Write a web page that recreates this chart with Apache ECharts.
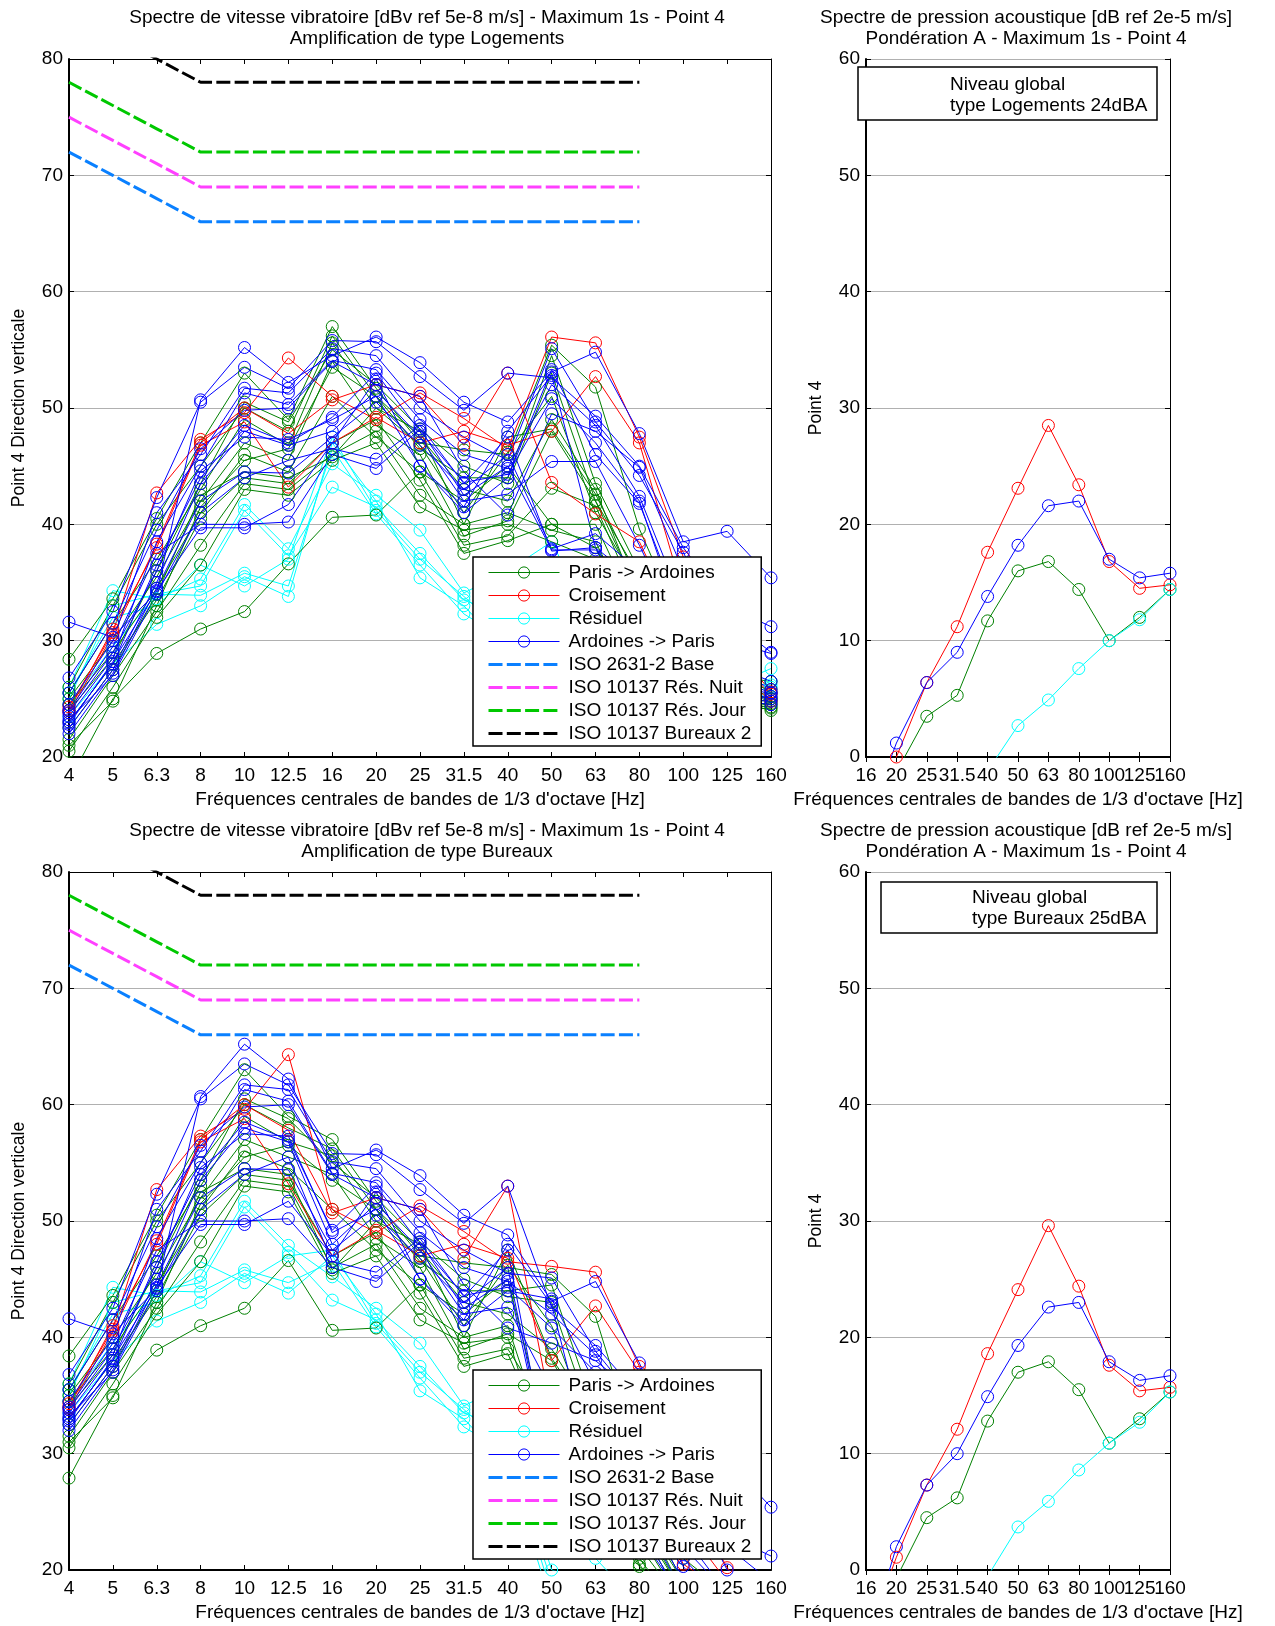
<!DOCTYPE html>
<html>
<head>
<meta charset="utf-8">
<script src="https://cdn.jsdelivr.net/npm/echarts@6/dist/echarts.min.js"></script>
<style>
  html, body { margin: 0; padding: 0; background: #fff; }
  #chart { width: 1275px; height: 1626px; }
</style>
</head>
<body>
<div id="chart"></div>
<script>
// categories
const freqVib = ['4', '5', '6.3', '8', '10', '12.5', '16', '20', '25', '31.5', '40', '50', '63', '80', '100', '125', '160'];
const freqAcou = ['16', '20', '25', '31.5', '40', '50', '63', '80', '100', '125', '160'];

// vitesse vibratoire - amplification Logements (one row per passage)
const logParisArdoines = [
    [28.4, 33.6, 40.5, 47.0, 53.0, 49.0, 57.0, 51.7, 47.0, 46.4, 46.0, 55.4, 51.8, 39.6, 31.0, 28.0, 25.5],
    [26.0, 33.0, 40.0, 45.0, 50.0, 48.0, 56.2, 51.0, 46.5, 44.0, 44.0, 54.5, 43.5, 36.0, 29.0, 27.0, 26.5],
    [25.5, 31.5, 37.0, 43.0, 49.0, 46.8, 55.6, 50.0, 48.0, 40.0, 47.5, 48.2, 42.6, 35.0, 29.0, 26.0, 25.0],
    [25.0, 30.0, 35.5, 42.0, 47.0, 45.5, 54.0, 48.5, 46.0, 39.0, 40.3, 48.0, 42.0, 34.0, 28.0, 25.0, 24.5],
    [24.5, 29.0, 34.5, 41.0, 46.0, 44.5, 51.0, 47.5, 44.5, 38.2, 39.0, 43.1, 41.6, 33.0, 27.0, 25.0, 24.0],
    [23.0, 28.0, 33.5, 40.5, 44.0, 43.5, 47.0, 49.0, 43.8, 37.5, 38.6, 40.0, 40.0, 32.0, 27.0, 24.0, 24.2],
    [21.5, 27.0, 32.5, 38.2, 43.5, 43.0, 46.0, 48.0, 42.5, 40.0, 41.0, 39.5, 38.5, 31.0, 26.0, 24.0, 24.6],
    [20.5, 26.0, 32.0, 36.5, 43.0, 42.5, 45.5, 47.0, 41.5, 39.5, 40.0, 38.5, 37.0, 30.3, 26.0, 23.5, 25.2],
    [17.9, 25.0, 28.9, 31.0, 32.5, 36.6, 40.6, 40.8, 44.5, 42.0, 45.0, 40.0, 38.0, 30.5, 25.0, 24.0, 25.8],
    [21.0, 24.8, 33.0, 41.5, 45.5, 46.5, 53.5, 51.0, 47.5, 43.0, 42.0, 49.0, 43.0, 33.5, 27.5, 25.0, 24.8],
    [24.0, 28.5, 36.0, 43.5, 50.5, 48.8, 55.0, 52.0, 48.2, 45.0, 43.5, 53.0, 42.0, 35.5, 28.0, 25.5, 25.0],
    [22.5, 27.5, 34.0, 42.5, 44.5, 44.0, 45.8, 50.0, 46.8, 41.0, 46.2, 51.0, 41.0, 34.5, 28.0, 24.5, 24.3]
];
const logCroisement = [
    [24.3, 30.7, 42.7, 47.3, 49.6, 54.3, 51.0, 49.0, 51.3, 49.1, 46.5, 56.1, 55.6, 47.5, 37.2, 30.2, 25.6],
    [23.8, 30.5, 38.3, 47.0, 50.0, 47.8, 50.7, 52.0, 51.0, 46.8, 53.0, 43.6, 40.9, 38.5, 30.5, 28.0, 24.8],
    [24.0, 31.0, 38.0, 46.8, 48.8, 43.2, 47.0, 49.2, 47.0, 48.0, 46.8, 48.0, 52.7, 47.0, 34.0, 29.0, 25.4]
];
const logResiduel = [
    [26.0, 34.3, 33.6, 35.3, 41.7, 37.9, 45.2, 42.5, 39.5, 34.1, 36.0, 38.5, 31.0, 27.0, 26.0, 26.0, 27.6],
    [25.0, 33.0, 34.0, 34.7, 41.2, 37.3, 43.2, 41.5, 37.5, 33.5, 32.0, 30.0, 29.0, 27.0, 25.0, 25.0, 26.5],
    [24.5, 29.5, 34.0, 33.9, 35.8, 34.7, 46.5, 40.9, 36.5, 32.3, 30.0, 28.0, 27.0, 26.0, 25.0, 25.0, 26.0],
    [23.5, 28.0, 31.4, 33.0, 35.5, 33.8, 47.0, 42.0, 35.4, 33.0, 29.0, 27.0, 26.5, 25.5, 24.5, 24.5, 25.5],
    [25.5, 32.0, 33.0, 36.5, 34.7, 37.0, 47.5, 41.2, 37.0, 33.8, 30.5, 29.0, 28.0, 26.0, 25.0, 25.0, 26.2]
];
const logArdoinesParis = [
    [31.6, 30.3, 34.2, 50.7, 55.2, 52.2, 54.5, 56.1, 53.9, 50.5, 48.8, 53.1, 54.8, 47.8, 38.5, 39.4, 35.4],
    [26.8, 32.5, 42.3, 50.5, 53.5, 51.7, 55.8, 55.7, 52.7, 49.8, 53.0, 52.6, 49.3, 45.0, 38.0, 33.0, 31.2],
    [24.5, 30.0, 41.0, 46.0, 51.7, 51.3, 55.1, 54.5, 50.0, 47.5, 45.5, 55.1, 48.8, 44.2, 37.6, 30.0, 28.9],
    [23.5, 28.5, 38.5, 45.0, 51.3, 50.3, 54.1, 53.3, 49.0, 46.0, 44.8, 52.0, 48.5, 42.4, 33.0, 28.0, 26.5],
    [23.0, 28.0, 36.5, 44.0, 48.5, 47.0, 49.2, 53.0, 48.0, 43.6, 44.3, 50.8, 47.0, 42.0, 31.0, 27.0, 25.5],
    [22.5, 27.5, 35.0, 43.5, 48.0, 46.8, 48.0, 51.5, 47.5, 42.0, 42.6, 45.4, 45.4, 38.2, 30.3, 26.0, 25.0],
    [22.0, 27.2, 34.5, 42.0, 44.5, 44.4, 47.5, 50.5, 46.8, 43.0, 46.0, 37.9, 39.2, 36.0, 29.0, 25.0, 24.8],
    [23.2, 27.0, 34.0, 41.0, 44.0, 45.5, 46.5, 45.6, 48.5, 43.5, 47.5, 37.7, 38.0, 35.0, 28.0, 26.0, 25.5],
    [24.0, 29.5, 37.5, 40.0, 40.0, 40.2, 46.0, 44.8, 48.2, 42.5, 45.0, 37.8, 37.8, 34.0, 27.0, 25.0, 24.5],
    [22.8, 28.2, 34.3, 39.7, 39.7, 41.7, 47.0, 52.5, 45.0, 41.5, 48.0, 52.8, 38.0, 33.0, 27.5, 24.5, 25.2],
    [25.5, 31.5, 39.5, 46.5, 49.8, 50.0, 54.0, 52.0, 51.0, 44.5, 40.8, 49.5, 48.0, 44.9, 36.0, 32.0, 29.0],
    [23.8, 29.0, 36.0, 44.6, 47.5, 47.3, 49.0, 51.0, 45.0, 41.0, 44.0, 53.3, 46.0, 41.8, 32.0, 28.0, 25.8]
];

// vitesse vibratoire - amplification Bureaux
const burParisArdoines = [
    [38.4, 43.6, 50.5, 57.0, 63.0, 59.0, 57.0, 51.7, 47.0, 46.4, 46.0, 45.4, 41.8, 29.6, 21.0, 18.0, 15.5],
    [36.0, 43.0, 50.0, 55.0, 60.0, 58.0, 56.2, 51.0, 46.5, 44.0, 44.0, 44.5, 33.5, 26.0, 19.0, 17.0, 16.5],
    [35.5, 41.5, 47.0, 53.0, 59.0, 56.8, 55.6, 50.0, 48.0, 40.0, 47.5, 38.2, 32.6, 25.0, 19.0, 16.0, 15.0],
    [35.0, 40.0, 45.5, 52.0, 57.0, 55.5, 54.0, 48.5, 46.0, 39.0, 40.3, 38.0, 32.0, 24.0, 18.0, 15.0, 14.5],
    [34.5, 39.0, 44.5, 51.0, 56.0, 54.5, 51.0, 47.5, 44.5, 38.2, 39.0, 33.1, 31.6, 23.0, 17.0, 15.0, 14.0],
    [33.0, 38.0, 43.5, 50.5, 54.0, 53.5, 47.0, 49.0, 43.8, 37.5, 38.6, 30.0, 30.0, 22.0, 17.0, 14.0, 14.2],
    [31.5, 37.0, 42.5, 48.2, 53.5, 53.0, 46.0, 48.0, 42.5, 40.0, 41.0, 29.5, 28.5, 21.0, 16.0, 14.0, 14.6],
    [30.5, 36.0, 42.0, 46.5, 53.0, 52.5, 45.5, 47.0, 41.5, 39.5, 40.0, 28.5, 27.0, 20.3, 16.0, 13.5, 15.2],
    [27.9, 35.0, 38.9, 41.0, 42.5, 46.6, 40.6, 40.8, 44.5, 42.0, 45.0, 30.0, 28.0, 20.5, 15.0, 14.0, 15.8],
    [31.0, 34.8, 43.0, 51.5, 55.5, 56.5, 53.5, 51.0, 47.5, 43.0, 42.0, 39.0, 33.0, 23.5, 17.5, 15.0, 14.8],
    [34.0, 38.5, 46.0, 53.5, 60.5, 58.8, 55.0, 52.0, 48.2, 45.0, 43.5, 43.0, 32.0, 25.5, 18.0, 15.5, 15.0],
    [32.5, 37.5, 44.0, 52.5, 54.5, 54.0, 45.8, 50.0, 46.8, 41.0, 46.2, 41.0, 31.0, 24.5, 18.0, 14.5, 14.3]
];
const burCroisement = [
    [34.3, 40.7, 52.7, 57.3, 59.6, 64.3, 51.0, 49.0, 51.3, 49.1, 46.5, 46.1, 45.6, 37.5, 27.2, 20.2, 15.6],
    [33.8, 40.5, 48.3, 57.0, 60.0, 57.8, 50.7, 52.0, 51.0, 46.8, 53.0, 33.6, 30.9, 28.5, 20.5, 18.0, 14.8],
    [34.0, 41.0, 48.0, 56.8, 58.8, 53.2, 47.0, 49.2, 47.0, 48.0, 46.8, 38.0, 42.7, 37.0, 24.0, 19.0, 15.4]
];
const burResiduel = [
    [36.0, 44.3, 43.6, 45.3, 51.7, 47.9, 45.2, 42.5, 39.5, 34.1, 36.0, 28.5, 21.0, 17.0, 16.0, 16.0, 17.6],
    [35.0, 43.0, 44.0, 44.7, 51.2, 47.3, 43.2, 41.5, 37.5, 33.5, 32.0, 20.0, 19.0, 17.0, 15.0, 15.0, 16.5],
    [34.5, 39.5, 44.0, 43.9, 45.8, 44.7, 46.5, 40.9, 36.5, 32.3, 30.0, 18.0, 17.0, 16.0, 15.0, 15.0, 16.0],
    [33.5, 38.0, 41.4, 43.0, 45.5, 43.8, 47.0, 42.0, 35.4, 33.0, 29.0, 17.0, 16.5, 15.5, 14.5, 14.5, 15.5],
    [35.5, 42.0, 43.0, 46.5, 44.7, 47.0, 47.5, 41.2, 37.0, 33.8, 30.5, 19.0, 18.0, 16.0, 15.0, 15.0, 16.2]
];
const burArdoinesParis = [
    [41.6, 40.3, 44.2, 60.7, 65.2, 62.2, 54.5, 56.1, 53.9, 50.5, 48.8, 43.1, 44.8, 37.8, 28.5, 29.4, 25.4],
    [36.8, 42.5, 52.3, 60.5, 63.5, 61.7, 55.8, 55.7, 52.7, 49.8, 53.0, 42.6, 39.3, 35.0, 28.0, 23.0, 21.2],
    [34.5, 40.0, 51.0, 56.0, 61.7, 61.3, 55.1, 54.5, 50.0, 47.5, 45.5, 45.1, 38.8, 34.2, 27.6, 20.0, 18.9],
    [33.5, 38.5, 48.5, 55.0, 61.3, 60.3, 54.1, 53.3, 49.0, 46.0, 44.8, 42.0, 38.5, 32.4, 23.0, 18.0, 16.5],
    [33.0, 38.0, 46.5, 54.0, 58.5, 57.0, 49.2, 53.0, 48.0, 43.6, 44.3, 40.8, 37.0, 32.0, 21.0, 17.0, 15.5],
    [32.5, 37.5, 45.0, 53.5, 58.0, 56.8, 48.0, 51.5, 47.5, 42.0, 42.6, 35.4, 35.4, 28.2, 20.3, 16.0, 15.0],
    [32.0, 37.2, 44.5, 52.0, 54.5, 54.4, 47.5, 50.5, 46.8, 43.0, 46.0, 27.9, 29.2, 26.0, 19.0, 15.0, 14.8],
    [33.2, 37.0, 44.0, 51.0, 54.0, 55.5, 46.5, 45.6, 48.5, 43.5, 47.5, 27.7, 28.0, 25.0, 18.0, 16.0, 15.5],
    [34.0, 39.5, 47.5, 50.0, 50.0, 50.2, 46.0, 44.8, 48.2, 42.5, 45.0, 27.8, 27.8, 24.0, 17.0, 15.0, 14.5],
    [32.8, 38.2, 44.3, 49.7, 49.7, 51.7, 47.0, 52.5, 45.0, 41.5, 48.0, 42.8, 28.0, 23.0, 17.5, 14.5, 15.2],
    [35.5, 41.5, 49.5, 56.5, 59.8, 60.0, 54.0, 52.0, 51.0, 44.5, 40.8, 39.5, 38.0, 34.9, 26.0, 22.0, 19.0],
    [33.8, 39.0, 46.0, 54.6, 57.5, 57.3, 49.0, 51.0, 45.0, 41.0, 44.0, 43.3, 36.0, 31.8, 22.0, 18.0, 15.8]
];

// limits (4 Hz .. 80 Hz)
const seuilBase = [72, 70, 68, 66, 66, 66, 66, 66, 66, 66, 66, 66, 66, 66];
const seuilNuit = [75, 73, 71, 69, 69, 69, 69, 69, 69, 69, 69, 69, 69, 69];
const seuilJour = [78, 76, 74, 72, 72, 72, 72, 72, 72, 72, 72, 72, 72, 72];
const seuilBureaux2 = [84, 82, 80, 78, 78, 78, 78, 78, 78, 78, 78, 78, 78, 78];

// pression acoustique dBA
const acouLogParis = [-12, -1.3, 3.5, 5.3, 11.7, 16.0, 16.8, 14.4, 10.0, 12.0, 14.4];
const acouLogCroisement = [-8, 0, 6.4, 11.2, 17.6, 23.1, 28.5, 23.4, 16.8, 14.5, 14.8];
const acouLogResiduel = [null, null, null, -6, -1.2, 2.7, 4.9, 7.6, 10.0, 11.8, 14.4];
const acouLogArdoines = [-5.8, 1.2, 6.4, 9.0, 13.8, 18.2, 21.6, 22.0, 17.0, 15.4, 15.8];
const acouBurParis = [-10, -0.7, 4.5, 6.2, 12.8, 17.0, 17.9, 15.5, 10.9, 13.0, 15.3];
const acouBurCroisement = [-6, 1.1, 7.3, 12.1, 18.6, 24.1, 29.6, 24.4, 17.6, 15.4, 15.7];
const acouBurResiduel = [null, null, null, -5, -0.55, 3.7, 5.9, 8.6, 10.9, 12.7, 15.3];
const acouBurArdoines = [-6.7, 2.0, 7.3, 10.0, 14.9, 19.3, 22.6, 23.0, 17.9, 16.3, 16.7];

const legendNames = ['Paris -> Ardoines', 'Croisement', 'Résiduel', 'Ardoines -> Paris',
    'ISO 2631-2 Base', 'ISO 10137 Rés. Nuit', 'ISO 10137 Rés. Jour', 'ISO 10137 Bureaux 2'];

const FONT = '"Liberation Sans", Arial, sans-serif';
const FS = 19;
const xName = "Fréquences centrales de bandes de 1/3 d'octave [Hz]";
const C_GREEN = '#008000', C_RED = '#ff0000', C_CYAN = '#00ffff', C_BLUE = '#0000ff';
const DASH = [14, 4.3];

// grids: 0 = top left, 1 = top right, 2 = bottom left, 3 = bottom right
const grids = [
    {left: 69, top: 59, width: 702, height: 698},
    {left: 866, top: 59, width: 304, height: 698},
    {left: 69, top: 872, width: 702, height: 698},
    {left: 866, top: 872, width: 304, height: 698}
];

function makeXAxes(g, cats) {
    return [{
        type: 'category', gridIndex: g, data: cats, boundaryGap: false, position: 'bottom',
        axisLine: {lineStyle: {color: '#000', width: 2}},
        axisTick: {inside: true, length: 5, interval: 0, lineStyle: {color: '#000'}},
        axisLabel: {interval: 0, color: '#000', fontSize: FS, fontFamily: FONT, margin: 9},
        splitLine: {show: false},
        name: xName, nameLocation: 'middle', nameGap: 33,
        nameTextStyle: {color: '#000', fontSize: FS, fontFamily: FONT}
    }, {
        type: 'category', gridIndex: g, data: cats, boundaryGap: false, position: 'top',
        axisLine: {lineStyle: {color: '#000', width: 1}},
        axisTick: {inside: true, length: 5, interval: 0, lineStyle: {color: '#000'}},
        axisLabel: {show: false},
        splitLine: {show: false}
    }];
}

function makeYAxes(g, min, max, name) {
    return [{
        type: 'value', gridIndex: g, min: min, max: max, interval: 10, position: 'left',
        axisLine: {show: true, lineStyle: {color: '#000', width: 2}},
        axisTick: {show: true, inside: true, length: 5, lineStyle: {color: '#000'}},
        axisLabel: {color: '#000', fontSize: FS, fontFamily: FONT, margin: 6},
        splitLine: {show: true, lineStyle: {color: '#b0b0b0', width: 1}},
        name: name, nameLocation: 'middle', nameGap: 41,
        nameTextStyle: {color: '#000', fontSize: 17.5, fontFamily: FONT}
    }, {
        type: 'value', gridIndex: g, min: min, max: max, interval: 10, position: 'right',
        axisLine: {show: true, lineStyle: {color: '#000', width: 1}},
        axisTick: {show: true, inside: true, length: 5, lineStyle: {color: '#000'}},
        axisLabel: {show: false},
        splitLine: {show: false}
    }];
}

function measureSeries(name, color, values, g) {
    return {
        name: name, type: 'line', xAxisIndex: g * 2, yAxisIndex: g * 2, data: values,
        symbol: 'circle', symbolSize: 12, showSymbol: true,
        lineStyle: {color: color, width: 1},
        itemStyle: {color: 'rgba(0,0,0,0)', borderColor: color, borderWidth: 1},
        emphasis: {disabled: true}
    };
}

function limitSeries(name, color, values, g) {
    return {
        name: name, type: 'line', xAxisIndex: g * 2, yAxisIndex: g * 2, data: values,
        symbol: 'none', lineStyle: {color: color, width: 3, type: DASH},
        itemStyle: {color: 'rgba(0,0,0,0)', borderColor: 'rgba(0,0,0,0)', borderWidth: 0},
        emphasis: {disabled: true}, z: 3
    };
}

function vibSeries(g, parisArdoines, croisement, residuel, ardoinesParis) {
    let list = [];
    residuel.forEach(r => list.push(measureSeries('Résiduel', C_CYAN, r, g)));
    parisArdoines.forEach(r => list.push(measureSeries('Paris -> Ardoines', C_GREEN, r, g)));
    croisement.forEach(r => list.push(measureSeries('Croisement', C_RED, r, g)));
    ardoinesParis.forEach(r => list.push(measureSeries('Ardoines -> Paris', C_BLUE, r, g)));
    list.push(limitSeries('ISO 2631-2 Base', '#0a80ff', seuilBase, g));
    list.push(limitSeries('ISO 10137 Rés. Nuit', '#ff40ff', seuilNuit, g));
    list.push(limitSeries('ISO 10137 Rés. Jour', '#00c800', seuilJour, g));
    list.push(limitSeries('ISO 10137 Bureaux 2', '#000000', seuilBureaux2, g));
    return list;
}

let series = [].concat(
    vibSeries(0, logParisArdoines, logCroisement, logResiduel, logArdoinesParis),
    [measureSeries('Paris -> Ardoines', C_GREEN, acouLogParis, 1),
     measureSeries('Croisement', C_RED, acouLogCroisement, 1),
     measureSeries('Résiduel', C_CYAN, acouLogResiduel, 1),
     measureSeries('Ardoines -> Paris', C_BLUE, acouLogArdoines, 1)],
    vibSeries(2, burParisArdoines, burCroisement, burResiduel, burArdoinesParis),
    [measureSeries('Paris -> Ardoines', C_GREEN, acouBurParis, 3),
     measureSeries('Croisement', C_RED, acouBurCroisement, 3),
     measureSeries('Résiduel', C_CYAN, acouBurResiduel, 3),
     measureSeries('Ardoines -> Paris', C_BLUE, acouBurArdoines, 3)]
);

function legendAt(top) {
    return {
        data: legendNames, orient: 'vertical', left: 473, top: top,
        padding: [6, 10, 3, 14], itemWidth: 71, itemHeight: 14, itemGap: 4,
        backgroundColor: '#fff', borderColor: '#000', borderWidth: 1.5,
        selectedMode: false, z: 20,
        itemStyle: {borderWidth: 'inherit'},
        lineStyle: {width: 'inherit'},
        textStyle: {color: '#000', fontSize: FS, fontFamily: FONT, padding: [0, 0, 0, 4]}
    };
}

function textEl(str, x, y, align) {
    return {
        type: 'text', z: 30,
        style: {text: str, x: x, y: y, align: align || 'center', verticalAlign: 'middle',
            fill: '#000', font: FS + 'px ' + FONT}
    };
}

function boxEl(x, y, w, h) {
    return {
        type: 'rect', z: 29, shape: {x: x, y: y, width: w, height: h},
        style: {fill: '#fff', stroke: '#000', lineWidth: 1.5}
    };
}

const chart = echarts.init(document.getElementById('chart'), null, {renderer: 'canvas'});

chart.setOption({
    backgroundColor: '#fff',
    animation: false,
    grid: grids,
    xAxis: [].concat(makeXAxes(0, freqVib), makeXAxes(1, freqAcou), makeXAxes(2, freqVib), makeXAxes(3, freqAcou)),
    yAxis: [].concat(makeYAxes(0, 20, 80, 'Point 4 Direction verticale'), makeYAxes(1, 0, 60, 'Point 4'),
        makeYAxes(2, 20, 80, 'Point 4 Direction verticale'), makeYAxes(3, 0, 60, 'Point 4')),
    legend: [legendAt(557), legendAt(1370)],
    graphic: [
        textEl('Spectre de vitesse vibratoire [dBv ref 5e-8 m/s] - Maximum 1s - Point 4', 427, 18),
        textEl('Amplification de type Logements', 427, 39),
        textEl('Spectre de pression acoustique [dB ref 2e-5 m/s]', 1026, 18),
        textEl('Pondération A - Maximum 1s - Point 4', 1026, 39),
        textEl('Spectre de vitesse vibratoire [dBv ref 5e-8 m/s] - Maximum 1s - Point 4', 427, 831),
        textEl('Amplification de type Bureaux', 427, 852),
        textEl('Spectre de pression acoustique [dB ref 2e-5 m/s]', 1026, 831),
        textEl('Pondération A - Maximum 1s - Point 4', 1026, 852),
        boxEl(858, 67, 299, 53),
        textEl('Niveau global', 950, 85, 'left'),
        textEl('type Logements 24dBA', 950, 106, 'left'),
        boxEl(881, 882, 276, 51),
        textEl('Niveau global', 972, 898, 'left'),
        textEl('type Bureaux 25dBA', 972, 919, 'left')
    ],
    series: series
});
</script>
</body>
</html>
